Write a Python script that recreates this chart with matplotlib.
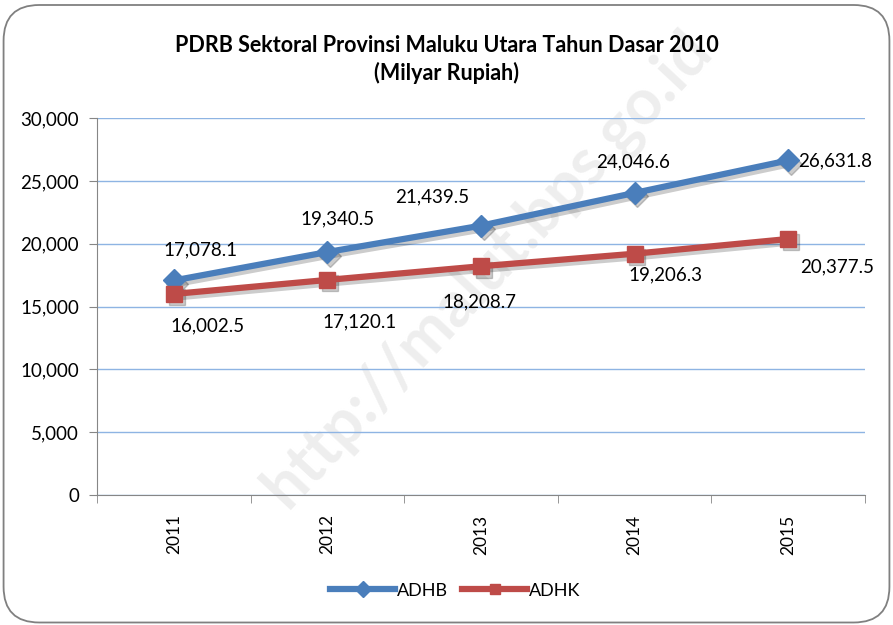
import matplotlib
matplotlib.use("Agg")
import matplotlib.pyplot as plt
from matplotlib.patches import FancyBboxPatch
from matplotlib.ticker import FuncFormatter, FixedLocator
from matplotlib.transforms import offset_copy

plt.rcParams['font.family'] = ['Lato', 'DejaVu Sans']

years = ["2011", "2012", "2013", "2014", "2015"]
adhb = [17078.1, 19340.5, 21439.5, 24046.6, 26631.8]
adhk = [16002.5, 17120.1, 18208.7, 19206.3, 20377.5]

BLUE = "#4a7ebb"
RED = "#be4b48"

# label offsets in points (dx, dy)
adhb_off = [(19, 22), (7, 24), (-35, 21), (-1, 22), (34, 0)]
adhk_off = [(24, -23), (23, -30), (-1, -26), (22, -15), (35, -20)]

fig = plt.figure(figsize=(8.93, 6.25), dpi=100)
ax = fig.add_axes([0.1086, 0.208, 0.86, 0.603], zorder=2)

border = FancyBboxPatch((0.004, 0.004), 0.992, 0.988, boxstyle="round,pad=0,rounding_size=0.04",
                        transform=fig.transFigure, fill=False, edgecolor="#808080", linewidth=1.3,
                        mutation_aspect=893/625)
fig.patches.append(border)

# watermark
fig.text(0.545, 0.57, "http://malut.bps.go.id", fontsize=46, fontweight="bold", color="#eeeeee",
         rotation=47, ha="center", va="center", zorder=0)

x = list(range(len(years)))
sh = offset_copy(ax.transData, fig=fig, x=2, y=-2.5, units="points")
for vals, mk in [(adhb, "D"), (adhk, "s")]:
    ax.plot(x, vals, color="black", alpha=0.2, lw=4.5, marker=mk, markersize=11, transform=sh, zorder=2)
ax.plot(x, adhb, color=BLUE, lw=4.5, marker="D", markersize=11, label="ADHB", zorder=3)
ax.plot(x, adhk, color=RED, lw=4.5, marker="s", markersize=11, label="ADHK", zorder=3)

for i in x:
    ax.annotate(f"{adhb[i]:,.1f}", (i, adhb[i]), xytext=adhb_off[i], textcoords="offset points",
                ha="center", va="center", fontsize=13.5)
    ax.annotate(f"{adhk[i]:,.1f}", (i, adhk[i]), xytext=adhk_off[i], textcoords="offset points",
                ha="center", va="center", fontsize=13.5)

ax.set_xlim(-0.5, 4.5)
ax.set_ylim(0, 30000)
ax.set_yticks(range(0, 30001, 5000))
ax.yaxis.set_major_formatter(FuncFormatter(lambda v, p: f"{int(v):,}"))
ax.set_xticks(x)
ax.set_xticklabels(years, rotation=90, fontsize=12.5)
ax.xaxis.set_minor_locator(FixedLocator([-0.5, 0.5, 1.5, 2.5, 3.5, 4.5]))
ax.tick_params(axis="x", which="major", length=0, pad=14)
ax.tick_params(axis="x", which="minor", length=6, color="#868686")
ax.tick_params(axis="y", length=6, color="#868686", labelsize=13.5, pad=7)
ax.grid(axis="y", color="#8eb4e3", lw=1)
ax.set_axisbelow(True)
for s in ["top", "right"]:
    ax.spines[s].set_visible(False)
for s in ["left", "bottom"]:
    ax.spines[s].set_color("#868686")
ax.patch.set_alpha(0)

fig.text(0.5, 0.928, "PDRB Sektoral Provinsi Maluku Utara Tahun Dasar 2010", ha="center", va="center",
         fontsize=15.5, fontweight="bold")
fig.text(0.5, 0.884, "(Milyar Rupiah)", ha="center", va="center", fontsize=15.5, fontweight="bold")

fig.legend(loc="center", bbox_to_anchor=(0.51, 0.055), ncol=2, frameon=False, fontsize=13,
           handlelength=3.6, columnspacing=0.8, handletextpad=0.1, markerscale=0.7)

fig.savefig("out.png", dpi=100)
